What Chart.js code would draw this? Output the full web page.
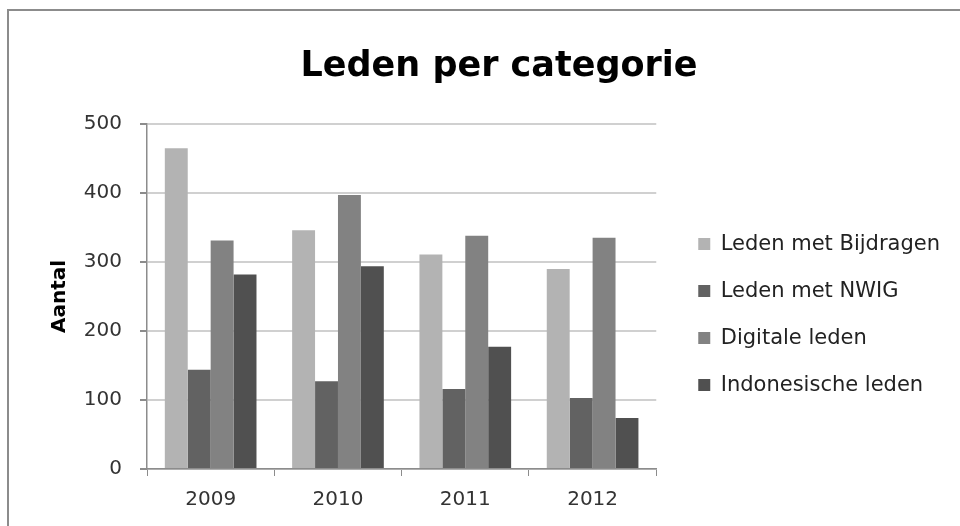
<!DOCTYPE html>
<html>
<head>
<meta charset="utf-8">
<script src="https://cdn.jsdelivr.net/npm/chart.js@4"></script>
<style>
  html, body { margin: 0; padding: 0; background: #fff; }
  #wrap { position: relative; width: 960px; height: 526px; overflow: hidden; }
  #frame { position: absolute; left: 7px; top: 9px; width: 1000px; height: 600px;
           border-left: 2px solid #8c8c8c; border-top: 2px solid #8c8c8c; }
  canvas { position: absolute; left: 0; top: 0; }
</style>
</head>
<body>
<div id="wrap">
  <div id="frame"></div>
  <canvas id="ledenChart" width="960" height="526"></canvas>
</div>
<script>
  // data
  const years = ["2009", "2010", "2011", "2012"];
  const bijdragen = [465, 346, 311, 290];
  const nwig = [144, 127, 116, 103];
  const digitaal = [331, 397, 338, 335];
  const indonesisch = [282, 294, 177, 74];
  const yTicks = [0, 100, 200, 300, 400, 500];

  const font = "'DejaVu Sans', sans-serif";

  function drawChart() {
    const ctx = document.getElementById("ledenChart").getContext("2d");
    return new Chart(ctx, {
      type: "bar",
      data: {
        labels: years,
        datasets: [
          { label: "Leden met Bijdragen", data: bijdragen, backgroundColor: "#b3b3b3" },
          { label: "Leden met NWIG", data: nwig, backgroundColor: "#626262" },
          { label: "Digitale leden", data: digitaal, backgroundColor: "#828282" },
          { label: "Indonesische leden", data: indonesisch, backgroundColor: "#505050" }
        ]
      },
      options: {
        responsive: false,
        animation: false,
        devicePixelRatio: 1,
        layout: { padding: { left: 48, right: 10, top: 0, bottom: 2 } },
        datasets: {
          bar: { categoryPercentage: 0.72, barPercentage: 1.0 }
        },
        plugins: {
          tooltip: { enabled: false },
          title: {
            display: true,
            text: "Leden per categorie",
            color: "#000",
            font: { family: font, size: 35, weight: "bold" },
            padding: { top: 46, bottom: 36 }
          },
          legend: {
            position: "right",
            align: "center",
            maxWidth: 320,
            title: { display: true, text: "", font: { size: 1 }, padding: { top: 104, bottom: 0 } },
            labels: {
              color: "#222",
              font: { family: font, size: 21 },
              boxWidth: 12,
              boxHeight: 12,
              padding: 26
            }
          }
        },
        scales: {
          x: {
            grid: { display: true, drawOnChartArea: false, drawTicks: true, tickLength: 7, tickColor: "#8c8c8c", offset: true },
            border: { color: "#8c8c8c", width: 1.5 },
            ticks: { color: "#333", font: { family: font, size: 20 }, padding: 12 }
          },
          y: {
            min: 0,
            max: 500,
            afterBuildTicks: function (axis) {
              axis.ticks = yTicks.map(v => ({ value: v }));
            },
            afterFit: function (axis) { axis.width = 99; },
            grid: { color: "#d0d0d0", lineWidth: 2, tickLength: 7, tickColor: "#8c8c8c" },
            border: { color: "#8c8c8c", width: 1.5 },
            ticks: { color: "#333", font: { family: font, size: 20 }, padding: 18 },
            title: {
              display: true,
              text: "Aantal",
              color: "#000",
              font: { family: font, size: 20, weight: "bold" },
              padding: { top: 0, bottom: 12 }
            }
          },
          // empty spacer between plot and legend
          gap: {
            position: "right",
            display: true,
            grid: { display: false },
            border: { display: false },
            ticks: { display: false },
            afterFit: function (axis) { axis.width = 16; }
          }
        }
      }
    });
  }

  Promise.all([
    document.fonts.load("20px 'DejaVu Sans'"),
    document.fonts.load("bold 35px 'DejaVu Sans'")
  ]).then(drawChart, drawChart);
</script>
</body>
</html>
